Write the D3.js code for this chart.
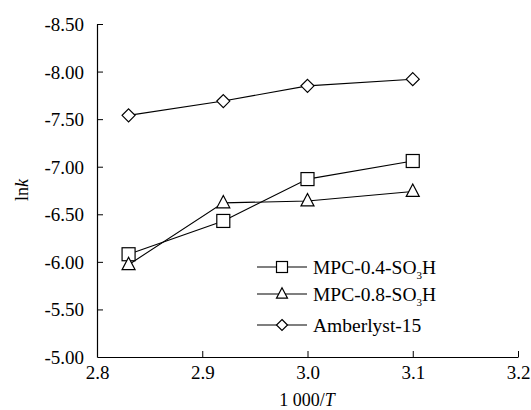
<!DOCTYPE html>
<html lang="en">
<head>
<meta charset="UTF-8">
<title>lnk vs 1000/T</title>
<script src="https://d3js.org/d3.v7.min.js"></script>
<style>
  body { margin: 0; background: #fff; }
  svg text { font-family: "Liberation Serif", "Times New Roman", serif; fill: #000; }
</style>
</head>
<body>
<script>
// data
var xValues = [2.83, 2.92, 3.00, 3.10];
var mpc04 = [-6.08, -6.43, -6.87, -7.06];
var mpc08 = [-5.97, -6.62, -6.64, -6.74];
var amberlyst = [-7.54, -7.69, -7.85, -7.92];
var seriesNames = ["MPC-0.4-SO3H", "MPC-0.8-SO3H", "Amberlyst-15"];
var yTicks = [-8.5, -8.0, -7.5, -7.0, -6.5, -6.0, -5.5, -5.0];
var xTicks = [2.8, 2.9, 3.0, 3.1, 3.2];

var width = 531, height = 410;
var serif = "'Liberation Serif', 'Times New Roman', serif";

var svg = d3.select("body").append("svg")
    .attr("width", width)
    .attr("height", height);

var x = d3.scaleLinear().domain([2.8, 3.2]).range([97, 518]);
var y = d3.scaleLinear().domain([-8.5, -5.0]).range([24, 357]);

// plain hyphen instead of the unicode minus d3 uses
var fmtY = function (d) { return d3.format(".2f")(d).replace("\u2212", "-"); };

// axes, ticks pointing inward
var xAxis = svg.append("g")
    .attr("transform", "translate(0," + y(-5.0) + ")")
    .call(d3.axisBottom(x).tickValues(xTicks).tickFormat(d3.format(".1f"))
        .tickSizeInner(-6).tickSizeOuter(0).tickPadding(9))
    .attr("font-family", serif)
    .attr("font-size", 19);
xAxis.select(".domain").attr("stroke", "#000").attr("stroke-width", 1.2);
xAxis.selectAll(".tick line").attr("stroke", "#000");
xAxis.selectAll(".tick").filter(function (d) { return d === 2.8; }).select("line").remove();

var yAxis = svg.append("g")
    .attr("transform", "translate(" + x(2.8) + ",0)")
    .call(d3.axisLeft(y).tickValues(yTicks).tickFormat(fmtY)
        .tickSizeInner(-6).tickSizeOuter(0).tickPadding(13))
    .attr("font-family", serif)
    .attr("font-size", 19);
yAxis.select(".domain").attr("stroke", "#000").attr("stroke-width", 1.2);
yAxis.selectAll(".tick line").attr("stroke", "#000");
yAxis.selectAll(".tick text").attr("dy", "0.34em");
yAxis.selectAll(".tick").filter(function (d) { return d === -5.0; }).select("line").remove();

// axis titles
var xt = svg.append("text")
    .attr("x", 307).attr("y", 406)
    .attr("text-anchor", "middle")
    .attr("font-size", 18);
xt.append("tspan").text("1 000/");
xt.append("tspan").attr("font-style", "italic").text("T");

var yt = svg.append("text")
    .attr("transform", "translate(28,190) rotate(-90)")
    .attr("text-anchor", "middle")
    .attr("font-size", 18);
yt.append("tspan").text("ln");
yt.append("tspan").attr("font-style", "italic").text("k");

// markers
function drawMarker(g, type, cx, cy, s) {
    if (type === "square") {
        g.append("rect")
            .attr("x", cx - s / 2).attr("y", cy - s / 2)
            .attr("width", s).attr("height", s);
    } else if (type === "triangle") {
        var h = s * 0.95;
        g.append("path")
            .attr("d", "M" + cx + "," + (cy - h * 0.6) +
                "L" + (cx + s / 2) + "," + (cy + h * 0.4) +
                "L" + (cx - s / 2) + "," + (cy + h * 0.4) + "Z");
    } else {
        var r = s / 2;
        g.append("path")
            .attr("d", "M" + cx + "," + (cy - r) + "L" + (cx + r) + "," + cy +
                "L" + cx + "," + (cy + r) + "L" + (cx - r) + "," + cy + "Z");
    }
}

var series = [
    { name: seriesNames[0], values: mpc04, marker: "square" },
    { name: seriesNames[1], values: mpc08, marker: "triangle" },
    { name: seriesNames[2], values: amberlyst, marker: "diamond" }
];

var line = d3.line()
    .x(function (d, i) { return x(xValues[i]); })
    .y(function (d) { return y(d); });

series.forEach(function (s) {
    svg.append("path")
        .datum(s.values)
        .attr("d", line)
        .attr("fill", "none")
        .attr("stroke", "#000")
        .attr("stroke-width", 1.1);
});

series.forEach(function (s) {
    var g = svg.append("g")
        .attr("fill", "#fff").attr("stroke", "#000").attr("stroke-width", 1.2);
    s.values.forEach(function (v, i) {
        drawMarker(g, s.marker, x(xValues[i]), y(v), 13);
    });
});

// legend
var legendY = [267, 294, 325];
series.forEach(function (s, i) {
    var ly = legendY[i];
    svg.append("line")
        .attr("x1", 257).attr("x2", 307)
        .attr("y1", ly).attr("y2", ly)
        .attr("stroke", "#000").attr("stroke-width", 1.1);
    var g = svg.append("g")
        .attr("fill", "#fff").attr("stroke", "#000").attr("stroke-width", 1.2);
    drawMarker(g, s.marker, 282, ly, 11);
    var t = svg.append("text")
        .attr("x", 313).attr("y", ly + 7)
        .attr("font-size", 19.5);
    if (s.name.indexOf("SO3H") >= 0) {
        t.append("tspan").text(s.name.replace("SO3H", "SO"));
        t.append("tspan").attr("font-size", 11).attr("dy", 5).text("3");
        t.append("tspan").attr("dy", -5).text("H");
    } else {
        t.text(s.name);
    }
});
</script>
</body>
</html>
